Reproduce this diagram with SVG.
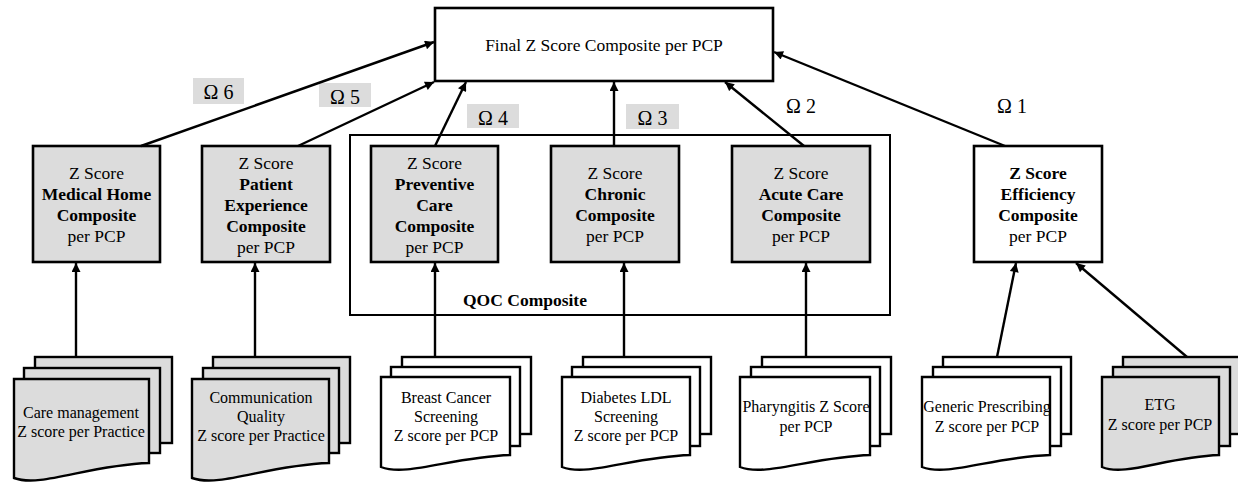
<svg xmlns="http://www.w3.org/2000/svg" width="1238" height="486" viewBox="0 0 1238 486">
<style>
text{font-family:"Liberation Serif","Times New Roman",serif;fill:#000;}
.t{font-size:17.5px;text-anchor:middle;}
.b{font-weight:bold;}
.d{font-size:16px;text-anchor:middle;}
.om{font-size:20px;text-anchor:middle;}
.box{stroke:#000;stroke-width:2.6;fill:#dcdcdc;}
.wbox{stroke:#000;stroke-width:2.6;fill:#fff;}
.doc{stroke:#000;stroke-width:2.4;fill:#dcdcdc;}
.wdoc{stroke:#000;stroke-width:2.4;fill:#fff;}
.omb{fill:#dcdcdc;}
.c{stroke:#000;stroke-width:2.4;fill:none;}
</style>
<defs>
<marker id="ah" viewBox="0 0 10 10" refX="10" refY="5" markerWidth="11" markerHeight="9" orient="auto" markerUnits="userSpaceOnUse"><path d="M0,0 L10,5 L0,10 z" fill="#000"/></marker>
</defs>

<g id="qoc">
<rect x="350" y="135" width="540" height="180" fill="none" stroke="#000" stroke-width="2"/>
<text x="463" y="306" class="b" style="font-size:17.5px">QOC Composite</text>
</g>

<g id="final">
<rect x="435" y="8" width="338" height="73" class="wbox"/>
<text x="604" y="51" class="t">Final Z Score Composite per PCP</text>
</g>

<g id="omegas">
<rect x="193" y="78" width="51" height="26" class="omb"/><text x="218.5" y="99" class="om">Ω 6</text>
<rect x="319" y="83" width="52" height="24" class="omb"/><text x="345" y="104" class="om">Ω 5</text>
<rect x="467" y="104" width="52" height="24" class="omb"/><text x="493" y="125" class="om">Ω 4</text>
<rect x="626" y="104" width="53" height="25" class="omb"/><text x="652.5" y="125" class="om">Ω 3</text>
<text x="801" y="113" class="om">Ω 2</text>
<text x="1012" y="113" class="om">Ω 1</text>
</g>

<g id="medhome">
<rect x="33" y="146" width="127" height="116" class="box"/>
<text x="96.5" y="179" class="t">Z Score</text>
<text x="96.5" y="200" class="t b">Medical Home</text>
<text x="96.5" y="221" class="t b">Composite</text>
<text x="96.5" y="242" class="t">per PCP</text>
</g>
<g id="patient">
<rect x="202" y="146" width="128" height="116" class="box"/>
<text x="266" y="169" class="t">Z Score</text>
<text x="266" y="190" class="t b">Patient</text>
<text x="266" y="211" class="t b">Experience</text>
<text x="266" y="232" class="t b">Composite</text>
<text x="266" y="253" class="t">per PCP</text>
</g>
<g id="preventive">
<rect x="371" y="146" width="127" height="116" class="box"/>
<text x="434.5" y="169" class="t">Z Score</text>
<text x="434.5" y="190" class="t b">Preventive</text>
<text x="434.5" y="211" class="t b">Care</text>
<text x="434.5" y="232" class="t b">Composite</text>
<text x="434.5" y="253" class="t">per PCP</text>
</g>
<g id="chronic">
<rect x="551" y="146" width="128" height="116" class="box"/>
<text x="615" y="179" class="t">Z Score</text>
<text x="615" y="200" class="t b">Chronic</text>
<text x="615" y="221" class="t b">Composite</text>
<text x="615" y="242" class="t">per PCP</text>
</g>
<g id="acute">
<rect x="732" y="146" width="138" height="116" class="box"/>
<text x="801" y="179" class="t">Z Score</text>
<text x="801" y="200" class="t b">Acute Care</text>
<text x="801" y="221" class="t b">Composite</text>
<text x="801" y="242" class="t">per PCP</text>
</g>
<g id="efficiency">
<rect x="974" y="146" width="128" height="116" class="wbox"/>
<text x="1038" y="179" class="t b">Z Score</text>
<text x="1038" y="200" class="t b">Efficiency</text>
<text x="1038" y="221" class="t b">Composite</text>
<text x="1038" y="242" class="t">per PCP</text>
</g>

<g id="doc-care">
<rect x="35" y="357" width="137" height="86" class="doc"/>
<rect x="24" y="368" width="136" height="85" class="doc"/>
<path d="M14,379 H149 V463 C88,465 41,488 14,478 Z" class="doc"/>
<text x="81" y="418" class="d">Care management</text>
<text x="81" y="437" class="d">Z score per Practice</text>
</g>
<g id="doc-comm">
<rect x="213" y="357" width="137" height="86" class="doc"/>
<rect x="203" y="368" width="136" height="85" class="doc"/>
<path d="M192,379 H329 V463 C267,465 220,488 192,478 Z" class="doc"/>
<text x="261" y="403" class="d">Communication</text>
<text x="261" y="422" class="d">Quality</text>
<text x="261" y="441" class="d">Z score per Practice</text>
</g>
<g id="doc-breast">
<rect x="402" y="357" width="129" height="77" class="wdoc"/>
<rect x="391" y="367" width="129" height="79" class="wdoc"/>
<path d="M381,377 H510 V455 C452,457 407,477 381,467 Z" class="wdoc"/>
<text x="446" y="403" class="d">Breast Cancer</text>
<text x="446" y="422" class="d">Screening</text>
<text x="446" y="441" class="d">Z score per PCP</text>
</g>
<g id="doc-diabetes">
<rect x="583" y="357" width="128" height="77" class="wdoc"/>
<rect x="572" y="367" width="128" height="79" class="wdoc"/>
<path d="M562,377 H690 V455 C632,457 588,477 562,467 Z" class="wdoc"/>
<text x="626" y="403" class="d">Diabetes LDL</text>
<text x="626" y="422" class="d">Screening</text>
<text x="626" y="441" class="d">Z score per PCP</text>
</g>
<g id="doc-pharyngitis">
<rect x="762" y="357" width="129" height="77" class="wdoc"/>
<rect x="751" y="367" width="129" height="79" class="wdoc"/>
<path d="M740,377 H870 V455 C812,457 766,477 740,467 Z" class="wdoc"/>
<text x="806" y="412" class="d">Pharyngitis Z Score</text>
<text x="806" y="432" class="d">per PCP</text>
</g>
<g id="doc-generic">
<rect x="943" y="357" width="128" height="77" class="wdoc"/>
<rect x="933" y="367" width="128" height="79" class="wdoc"/>
<path d="M922,377 H1050 V455 C992,457 948,477 922,467 Z" class="wdoc"/>
<text x="987" y="412" class="d">Generic Prescribing</text>
<text x="987" y="432" class="d">Z score per PCP</text>
</g>
<g id="doc-etg">
<rect x="1123" y="357" width="120" height="77" class="doc"/>
<rect x="1113" y="367" width="117" height="79" class="doc"/>
<path d="M1102,377 H1219 V455 C1166,457 1125,477 1102,467 Z" class="doc"/>
<text x="1160" y="410" class="d">ETG</text>
<text x="1160" y="430" class="d">Z score per PCP</text>
</g>

<g id="connectors">
<path d="M141,146 L434,42" class="c" marker-end="url(#ah)"/>
<path d="M298,146 L434,82" class="c" marker-end="url(#ah)"/>
<path d="M435,146 L466,82" class="c" marker-end="url(#ah)"/>
<path d="M614,146 L614,82" class="c" marker-end="url(#ah)"/>
<path d="M804,146 L725,82" class="c" marker-end="url(#ah)"/>
<path d="M1005,146 L774,52" class="c" marker-end="url(#ah)"/>
<path d="M76,357 L76,263" class="c" marker-end="url(#ah)"/>
<path d="M255,357 L255,263" class="c" marker-end="url(#ah)"/>
<path d="M435,357 L435,263" class="c" marker-end="url(#ah)"/>
<path d="M624,357 L624,263" class="c" marker-end="url(#ah)"/>
<path d="M806,357 L806,263" class="c" marker-end="url(#ah)"/>
<path d="M997,357 L1016,263" class="c" marker-end="url(#ah)"/>
<path d="M1187,357 L1076,263" class="c" marker-end="url(#ah)"/>
</g>
</svg>
